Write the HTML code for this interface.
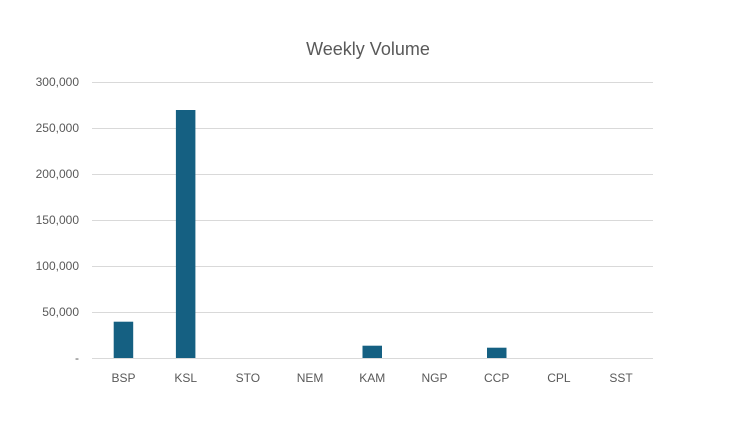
<!DOCTYPE html>
<html><head><style>body{margin:0;background:#fff}</style></head><body>
<svg width="733" height="422" xmlns="http://www.w3.org/2000/svg" font-family="Liberation Sans, sans-serif">
<rect width="733" height="422" fill="#fff"/>
<text x="368" y="55" text-anchor="middle" font-size="18" fill="#595959">Weekly Volume</text>
<g stroke="#d9d9d9" stroke-width="1">
<line x1="92" x2="653" y1="82.5" y2="82.5"/><line x1="92" x2="653" y1="128.5" y2="128.5"/>
<line x1="92" x2="653" y1="174.5" y2="174.5"/><line x1="92" x2="653" y1="220.5" y2="220.5"/>
<line x1="92" x2="653" y1="266.5" y2="266.5"/><line x1="92" x2="653" y1="312.5" y2="312.5"/>
<line x1="92" x2="653" y1="358.5" y2="358.5"/>
</g>
<g font-size="12" fill="#595959" text-anchor="end">
<text x="79" y="86">300,000</text><text x="79" y="132">250,000</text><text x="79" y="178">200,000</text>
<text x="79" y="224">150,000</text><text x="79" y="270">100,000</text><text x="79" y="316">50,000</text>
<text x="79" y="362">-</text>
</g>
<g fill="#156082">
<rect x="113.7" y="321.7" width="19.5" height="36.3"/>
<rect x="175.9" y="110" width="19.5" height="248"/>
<rect x="362.5" y="345.7" width="19.5" height="12.3"/>
<rect x="487" y="347.7" width="19.5" height="10.3"/>
</g>
<g font-size="12" fill="#595959" text-anchor="middle">
<text x="123.5" y="382">BSP</text><text x="185.7" y="382">KSL</text><text x="247.9" y="382">STO</text>
<text x="310.1" y="382">NEM</text><text x="372.3" y="382">KAM</text><text x="434.5" y="382">NGP</text>
<text x="496.7" y="382">CCP</text><text x="558.9" y="382">CPL</text><text x="621.1" y="382">SST</text>
</g>
</svg>
</body></html>
